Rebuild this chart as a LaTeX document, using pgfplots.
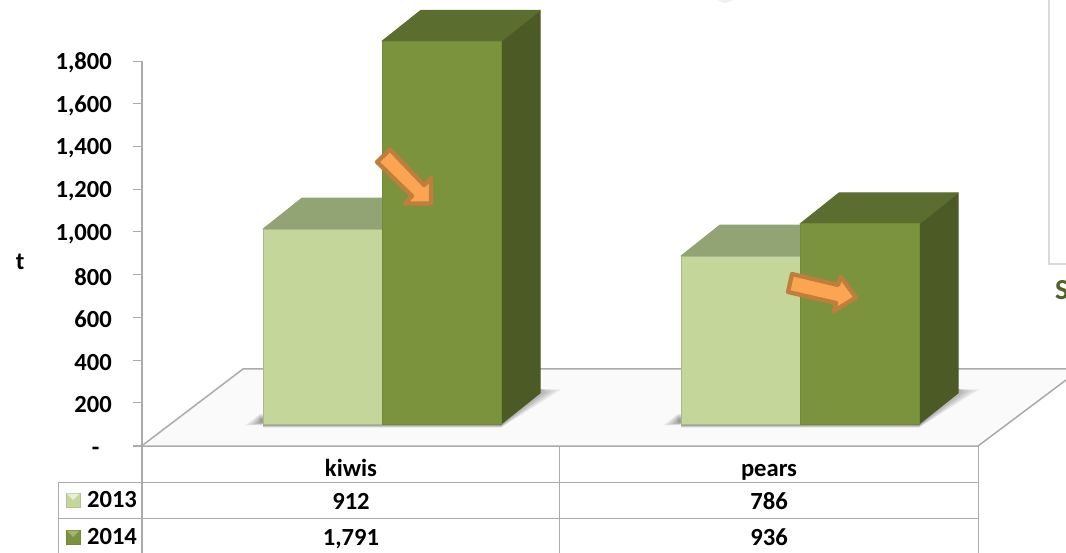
\documentclass[border=0pt]{standalone}
\usepackage{pgfplots}
\pgfplotsset{compat=1.18}
\usepackage{fontspec}
\setmainfont{Carlito}
\definecolor{lf}{HTML}{C4D69A}
\definecolor{lt}{HTML}{92A474}
\definecolor{le}{HTML}{AAB890}
\definecolor{df}{HTML}{7A933C}
\definecolor{dt}{HTML}{5B6E2F}
\definecolor{ds}{HTML}{4C5B26}
\definecolor{de}{HTML}{708A37}
\definecolor{gl}{HTML}{ABABAB}
\definecolor{af}{HTML}{FBA552}
\definecolor{ae}{HTML}{BF7E3C}
\definecolor{ot}{HTML}{4F6228}
\newcommand{\lab}{\bfseries\fontsize{24.6}{24.6}\selectfont}
% x0, value, front, top, side, edge
\newcommand{\threedbar}[6]{%
  \pgfmathsetmacro\ytop{#2+101.5}%
  \pgfmathsetmacro\yback{#2+246.5}%
  \pgfmathsetmacro\xa{#1+39}%
  \pgfmathsetmacro\xb{#1+119}%
  \pgfmathsetmacro\xc{#1+158}%
  \addplot[fill=#5,draw=#5,line width=1pt,line join=round] coordinates {(\xb,101.5)(\xc,246.5)(\xc,\yback)(\xb,\ytop)} -- cycle;
  \addplot[fill=#4,draw=#4,line width=1pt,line join=round] coordinates {(#1,\ytop)(\xa,\yback)(\xc,\yback)(\xb,\ytop)} -- cycle;
  \addplot[fill=#3,draw=#6,line width=1pt,line join=round] coordinates {(#1,101.5)(#1,\ytop)(\xb,\ytop)(\xb,101.5)} -- cycle;
}
% soft shadow under a pair of bars (pixel axis)
\newcommand{\softshadow}[1]{%
  \addplot[fill=black,fill opacity=0.07,draw=none] coordinates
   {(#1-18+3*\sk,425.5)(#1-3,414+\sk)(#1,414+\sk)(#1,427.5-0.4*\sk)(#1+238,427.5-0.4*\sk)(#1+298-5*\sk,389.5+0.8*\sk)(#1+278,389)(#1+238,420)(#1+20,420)} -- cycle;
}
\pgfplotsset{
 pix/.style={at={(0pt,0pt)},anchor=south west,width=1066pt,height=553pt,scale only axis,
   xmin=0,xmax=1066,ymin=0,ymax=553,y dir=reverse,hide axis,clip=true},
}
\begin{document}
\begin{tikzpicture}[x=1pt,y=1pt]
\useasboundingbox (0,0) rectangle (1066,553);
% background: floor, frame, table grid
\begin{axis}[pix]
  \addplot[fill=white!98!black,draw=none] coordinates {(142,445.7)(243,369)(1066,369)(1066,380)(978,446)} -- cycle;
  \addplot[gl,line width=1.5pt] coordinates {(142,445.7)(243,369)(1066,369)};
  \addplot[gl,line width=1.5pt] coordinates {(133,446)(978,446)(1066,380)};
  \addplot[gl,line width=1.5pt] coordinates {(133,445.7)(142,445.7)};
  \addplot[black!15,line width=1.6pt] coordinates {(1049,0)(1049,264)(1066,264)};
  \addplot[fill=black!6,draw=none] coordinates {(717,0)(721,2)(725,3)(729,2)(733,0)} -- cycle;
  \def\sk{0}\softshadow{263}\softshadow{681}
  \def\sk{1}\softshadow{263}\softshadow{681}
  \def\sk{2}\softshadow{263}\softshadow{681}
  \def\sk{3}\softshadow{263}\softshadow{681}
  \def\sk{4}\softshadow{263}\softshadow{681}
  \def\sk{5}\softshadow{263}\softshadow{681}
  % table grid
  \addplot[gl,line width=1.3pt] coordinates {(142,61)(142,553)};
  \addplot[gl,line width=1pt] coordinates {(559,446)(559,553)};
  \addplot[gl,line width=1pt] coordinates {(978,446)(978,553)};
  \addplot[gl,line width=1pt] coordinates {(58,553)(58,482.7)(978,482.7)};
  \addplot[gl,line width=1pt] coordinates {(58,518.3)(978,518.3)};
\end{axis}
% value axis with bars
\begin{axis}[
  at={(142pt,0pt)},anchor=south west,width=924pt,height=553pt,scale only axis,
  xmin=142,xmax=1066,ymin=-502.1,ymax=2085.6,
  axis line style={draw=none},
  xtick=\empty,
  ytick={0,200,400,600,800,1000,1200,1400,1600,1800},
  yticklabels={{-\phantom{0}},200,400,600,800,{1,000},{1,200},{1,400},{1,600},{1,800}},
  ytick pos=left,
  tick align=outside,
  major tick length=9pt,
  tick style={gl,line width=1pt},
  yticklabel style={font=\lab,inner sep=0pt,yshift=-2pt,xshift=-21pt},
  ylabel={t},
  ylabel style={font=\lab,rotate=-90,at={(axis description cs:-0.132,0.526)},anchor=center},
  clip=true,
]
  \threedbar{263}{912}{lf}{lt}{lt}{le}
  \threedbar{382}{1791}{df}{dt}{ds}{de}
  \threedbar{681}{786}{lf}{lt}{lt}{le}
  \threedbar{800}{936}{df}{dt}{ds}{de}
\end{axis}
% arrows, table text
\begin{axis}[pix]
  \addplot[fill=af,draw=ae,line width=4.3pt,line join=round] coordinates
    {(377,162)(390,149.5)(424,185)(431,178)(431,203.5)(405,203.5)(412,196)} -- cycle;
  \addplot[fill=af,draw=ae,line width=4.3pt,line join=round] coordinates
    {(788,292)(792,274)(838,285)(841,277)(856,297.5)(834,311)(836,303)} -- cycle;
  % legend keys
  \addplot[fill=lf,draw=le!70!lf,line width=.8pt] coordinates {(66,493)(80,493)(80,507)(66,507)} -- cycle;
  \addplot[fill=lf!40!white,draw=none] coordinates {(66.5,493.5)(79.5,493.5)(73,500)} -- cycle;
  \addplot[fill=df,draw=de,line width=.8pt] coordinates {(66,530)(80,530)(80,544)(66,544)} -- cycle;
  \addplot[fill=df!70!white,draw=none] coordinates {(66.5,530.5)(79.5,530.5)(73,537)} -- cycle;
  \node[font=\lab,anchor=base] at (axis cs:351,476) {kiwis};
  \node[font=\lab,anchor=base] at (axis cs:769,476) {pears};
  \node[font=\lab,anchor=base] at (axis cs:112,507.5) {2013};
  \node[font=\lab,anchor=base] at (axis cs:112,544) {2014};
  \node[font=\lab,anchor=base] at (axis cs:351,509) {912};
  \node[font=\lab,anchor=base] at (axis cs:769,509) {786};
  \node[font=\lab,anchor=base] at (axis cs:351,545) {1,791};
  \node[font=\lab,anchor=base] at (axis cs:769,545) {936};
  \node[font=\bfseries\fontsize{29}{29}\selectfont,text=ot,anchor=west,inner sep=0pt] at (axis cs:1055,290) {S};
\end{axis}
\end{tikzpicture}
\end{document}
